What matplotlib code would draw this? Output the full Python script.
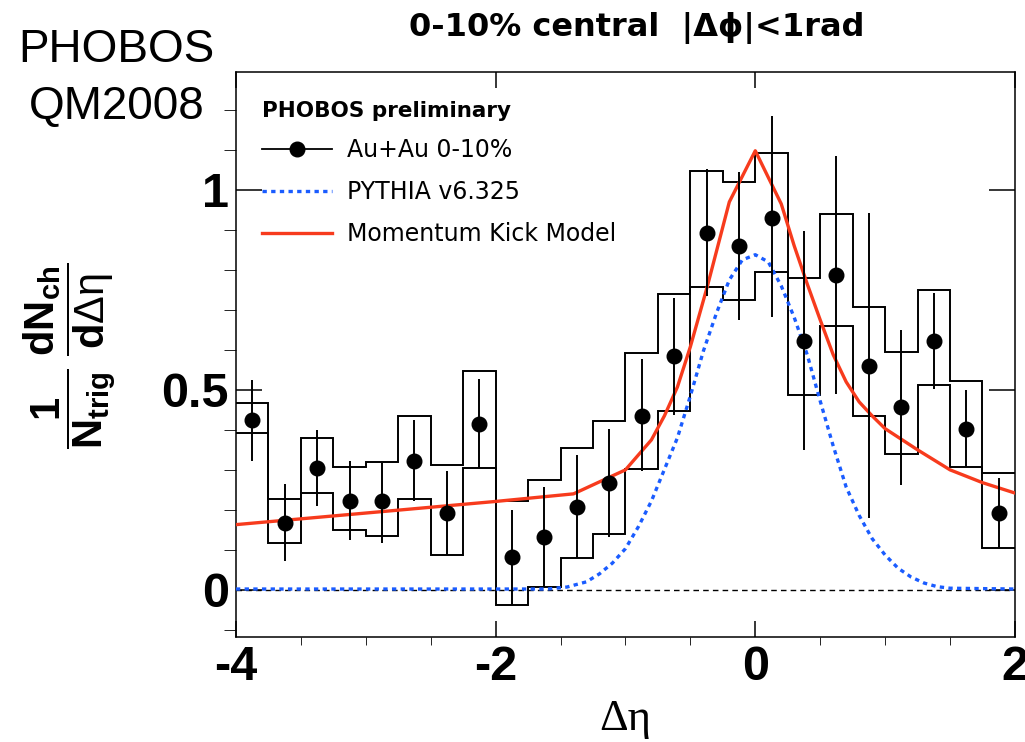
import numpy as np
import matplotlib.pyplot as plt
from matplotlib.lines import Line2D
from matplotlib.ticker import MultipleLocator, FixedLocator

plt.rcParams['axes.unicode_minus'] = False
plt.rcParams['mathtext.fontset'] = 'custom'
plt.rcParams['mathtext.rm'] = 'Liberation Sans'
plt.rcParams['mathtext.bf'] = 'Liberation Sans:bold'
plt.rcParams['mathtext.it'] = 'Liberation Sans:italic'

# PHOBOS Au+Au 0-10%, 1/Ntrig dN/dDeta  (bins of 0.25)
eta = [-3.875, -3.625, -3.375, -3.125, -2.875, -2.625, -2.375, -2.125,
       -1.875, -1.625, -1.375, -1.125, -0.875, -0.625, -0.375, -0.125,
       0.125, 0.375, 0.625, 0.875, 1.125, 1.375, 1.625, 1.875]
dndeta = [0.425, 0.168, 0.304, 0.223, 0.221, 0.323, 0.192, 0.415,
          0.083, 0.132, 0.206, 0.268, 0.435, 0.584, 0.892, 0.860,
          0.931, 0.623, 0.787, 0.560, 0.456, 0.623, 0.403, 0.192]
stat_lo = [0.323, 0.072, 0.210, 0.125, 0.118, 0.221, 0.088, 0.304,
           -0.038, 0.008, 0.079, 0.133, 0.297, 0.437, 0.734, 0.675,
           0.683, 0.350, 0.490, 0.179, 0.263, 0.502, 0.308, 0.105]
stat_hi = [0.525, 0.265, 0.400, 0.321, 0.318, 0.425, 0.296, 0.527,
           0.200, 0.256, 0.338, 0.401, 0.577, 0.729, 1.052, 1.046,
           1.186, 0.898, 1.085, 0.942, 0.649, 0.742, 0.500, 0.279]
sys_lo = [0.392, 0.118, 0.243, 0.150, 0.135, 0.227, 0.087, 0.304,
          -0.038, 0.008, 0.079, 0.140, 0.302, 0.448, 0.758, 0.724,
          0.796, 0.488, 0.660, 0.435, 0.340, 0.511, 0.307, 0.105]
sys_hi = [0.468, 0.227, 0.379, 0.307, 0.319, 0.435, 0.311, 0.547,
          0.221, 0.275, 0.355, 0.421, 0.592, 0.741, 1.048, 1.021,
          1.093, 0.779, 0.940, 0.707, 0.595, 0.751, 0.522, 0.293]
bin_w = 0.25

# PYTHIA v6.325
pyth_x = [-4.0, -1.6, -1.45, -1.3, -1.2, -1.1, -1.0, -0.9, -0.8, -0.7, -0.6,
          -0.5, -0.4, -0.3, -0.2, -0.1, 0.0, 0.1, 0.2, 0.3, 0.4, 0.5, 0.6,
          0.7, 0.8, 0.9, 1.0, 1.1, 1.2, 1.3, 1.4, 1.5, 2.0]
pyth_y = [0.002, 0.002, 0.007, 0.020, 0.040, 0.067, 0.103, 0.158, 0.222,
          0.301, 0.380, 0.485, 0.597, 0.691, 0.775, 0.825, 0.838, 0.820,
          0.760, 0.681, 0.588, 0.472, 0.360, 0.257, 0.186, 0.128, 0.087,
          0.054, 0.032, 0.017, 0.008, 0.004, 0.002]

# Momentum Kick Model
mkm_x = [-4.0, -2.0, -1.4, -1.2, -1.0, -0.8, -0.7, -0.6, -0.5, -0.37, -0.2,
         0.0, 0.2, 0.3, 0.4, 0.5, 0.6, 0.7, 0.8, 0.9, 1.0, 1.25, 1.5, 1.75, 2.0]
mkm_y = [0.163, 0.221, 0.240, 0.270, 0.300, 0.375, 0.435, 0.507, 0.608,
         0.758, 0.970, 1.098, 0.965, 0.860, 0.765, 0.675, 0.588, 0.520,
         0.470, 0.435, 0.403, 0.350, 0.300, 0.268, 0.242]

RED = '#f73b1d'
BLUE = '#1a5cff'

fig = plt.figure(figsize=(10.25, 7.42), dpi=100)
ax = fig.add_axes([0.2302, 0.1415, 0.7600, 0.7615])

x = np.array(eta)
y = np.array(dndeta)
edges = np.append(x - bin_w / 2, x[-1] + bin_w / 2)

# systematic band as upper / lower step lines
ax.stairs(sys_hi, edges, baseline=None, color='k', lw=1.4, zorder=2)
ax.stairs(sys_lo, edges, baseline=None, color='k', lw=1.4, zorder=2)

ax.axhline(0, color='k', lw=1.0, ls=(0, (4, 3)), zorder=1)
ax.plot(pyth_x, pyth_y, color=BLUE, lw=2.4, ls=(0, (1.3, 1.3)), zorder=3)
ax.plot(mkm_x, mkm_y, color=RED, lw=2.4, zorder=4)

ax.errorbar(x, y, yerr=[y - np.array(stat_lo), np.array(stat_hi) - y],
            fmt='o', color='k', ms=10.5, elinewidth=1.4, capsize=0, zorder=5)

ax.set_xlim(-4, 2)
ax.set_ylim(-0.118, 1.295)
ax.xaxis.set_major_locator(FixedLocator([-4, -2, 0, 2]))
ax.xaxis.set_minor_locator(MultipleLocator(0.5))
ax.yaxis.set_major_locator(FixedLocator([0, 0.5, 1]))
ax.yaxis.set_minor_locator(MultipleLocator(0.1))
ax.set_xticklabels(['-4', '-2', '0', '2'])
ax.set_yticklabels(['0', '0.5', '1'])
ax.tick_params(direction='in', top=True, right=True, width=1.1)
ax.tick_params(axis='x', which='major', length=11.5, pad=6)
ax.tick_params(axis='x', which='minor', length=5.8)
ax.tick_params(axis='y', which='major', length=18.5, pad=5)
ax.tick_params(axis='y', which='minor', length=9)
for lab in ax.get_xticklabels() + ax.get_yticklabels():
    lab.set_fontfamily('Liberation Sans')
    lab.set_fontweight('bold')
    lab.set_fontsize(35)
for s in ax.spines.values():
    s.set_linewidth(1.1)

ax.set_xlabel('Δη', family=['Liberation Serif', 'DejaVu Serif'], fontsize=32, va='baseline')
ax.xaxis.set_label_coords(0.5, -0.165)
ax.set_ylabel(r'$\dfrac{\mathbf{1}}{\mathbf{N}_{\mathbf{trig}}}\;'
              r'\dfrac{\mathbf{dN}_{\mathbf{ch}}}{\mathbf{d}\mathrm{\Delta\eta}}$',
              fontsize=30, va='center')
ax.yaxis.set_label_coords(-0.213, 0.497)

fig.text(0.6215, 0.962, '0-10% central  |Δϕ|<1rad', family='DejaVu Sans',
         fontweight='bold', fontsize=23, ha='center', va='center')
fig.text(0.114, 1 - 62 / 742, 'PHOBOS', family='Liberation Sans', fontsize=33,
         ha='center', va='baseline')
fig.text(0.114, 1 - 119 / 742, 'QM2008', family='Liberation Sans', fontsize=33,
         ha='center', va='baseline')

handles = [Line2D([], [], color='k', marker='o', ms=10.5, lw=1.3),
           Line2D([], [], color=BLUE, lw=2.4, ls=(0, (1.3, 1.3))),
           Line2D([], [], color=RED, lw=2.4)]
labels = ['Au+Au 0-10%', 'PYTHIA v6.325', 'Momentum Kick Model']
leg = ax.legend(handles, labels, loc='upper left', bbox_to_anchor=(0.0334, 0.949),
                frameon=False, prop={'family': 'DejaVu Sans', 'size': 17},
                title='PHOBOS preliminary',
                title_fontproperties={'family': 'DejaVu Sans', 'weight': 'bold', 'size': 15.5},
                alignment='left', handlelength=2.97, handletextpad=0.64,
                labelspacing=0.75, borderpad=0, borderaxespad=0, numpoints=1)

fig.savefig('out.png', dpi=100)
